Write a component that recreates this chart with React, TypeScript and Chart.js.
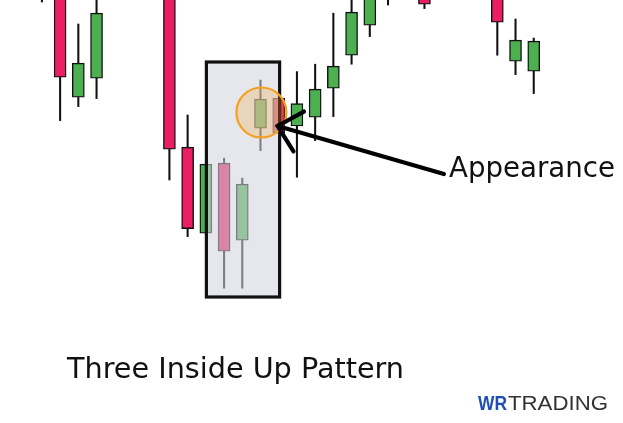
import React, { useEffect, useRef } from "react";
import { Chart, registerables } from "chart.js";

Chart.register(...registerables);

// Candle positions (bar index) and OHLC prices
const candleIndex = [-1, 0, 1, 2, 6, 7, 8, 9, 10, 11, 12, 13, 14, 15, 16, 17, 18, 20, 24, 25, 26];
const opens = [275, 265, 201.4, 210.9, 260, 176.4, 133.4, 168.4, 129.9, 185.9, 200.9, 187, 191.4, 205.9, 222.4, 237.4, 255, 260, 265, 219.4, 214.4];
const highs = [280, 272.5, 238, 255, 265, 192.5, 167.9, 170.9, 160.9, 210, 200.9, 214.2, 217.9, 243.4, 260, 270, 275, 265, 270, 240.5, 231];
const lows = [249, 189.7, 196.7, 200.7, 160, 131.7, 133.4, 105.9, 105.9, 174.7, 183.4, 161.4, 179.7, 191.7, 217.9, 231.7, 247.5, 245.7, 222.4, 212.7, 203.2];
const closes = [255, 211.4, 218.4, 243.4, 175.4, 135.7, 167.9, 124.4, 157.9, 200.4, 183.4, 198.2, 205.4, 216.9, 243.9, 265, 270, 247.9, 238.9, 229.9, 229.4];

// Annotation anchors (in data units)
const patternBoxIndex = [8.03, 12.05];
const patternBoxPrice = [219, 101.5];
const highlightCenter = [11.05, 193.75];
const arrowTip = [11.94, 187];
const arrowTail = [21.07, 163];

const titleText = "Three Inside Up Pattern";
const calloutText = "Appearance";
const logoBlue = "WR";
const logoGray = "TRADING";

const BULL = "#4caf50";
const BEAR = "#e91e63";

function drawFitted(ctx: CanvasRenderingContext2D, text: string, x: number, baseline: number, size: number, family: string, weight: string, targetW: number, fill: any) {
  ctx.save();
  ctx.font = `${weight} ${size}px ${family}`;
  const w = ctx.measureText(text).width;
  ctx.translate(x, baseline);
  ctx.scale(targetW / w, 1);
  ctx.fillStyle = fill;
  ctx.textBaseline = "alphabetic";
  ctx.textAlign = "left";
  ctx.fillText(text, 0, 0);
  ctx.restore();
}

const annotations = {
  id: "annotations",
  afterDatasetsDraw(chart: any) {
    const { ctx } = chart;
    const xs = chart.scales.x;
    const ys = chart.scales.y;
    const bx1 = xs.getPixelForValue(patternBoxIndex[0]);
    const bx2 = xs.getPixelForValue(patternBoxIndex[1]);
    const by1 = ys.getPixelForValue(patternBoxPrice[0]);
    const by2 = ys.getPixelForValue(patternBoxPrice[1]);
    ctx.save();
    // translucent pattern box
    ctx.fillStyle = "rgba(208,212,221,0.56)";
    ctx.fillRect(bx1, by1, bx2 - bx1, by2 - by1);
    ctx.lineWidth = 3.2;
    ctx.strokeStyle = "#111";
    ctx.strokeRect(bx1, by1, bx2 - bx1, by2 - by1);

    // highlight circle
    const cx = xs.getPixelForValue(highlightCenter[0]);
    const cy = ys.getPixelForValue(highlightCenter[1]);
    ctx.beginPath();
    ctx.arc(cx, cy, 25, 0, Math.PI * 2);
    ctx.fillStyle = "rgba(245,160,40,0.25)";
    ctx.fill();
    ctx.lineWidth = 2.2;
    ctx.strokeStyle = "#f5a021";
    ctx.stroke();

    // arrow
    const tx = xs.getPixelForValue(arrowTip[0]);
    const ty = ys.getPixelForValue(arrowTip[1]);
    const ax = xs.getPixelForValue(arrowTail[0]);
    const ay = ys.getPixelForValue(arrowTail[1]);
    ctx.strokeStyle = "#000";
    ctx.lineWidth = 4.2;
    ctx.lineCap = "round";
    ctx.beginPath();
    ctx.moveTo(ax, ay);
    ctx.lineTo(tx, ty);
    const ang = Math.atan2(ay - ty, ax - tx);
    const spread = (42 * Math.PI) / 180;
    const len = 30;
    ctx.moveTo(tx + len * Math.cos(ang - spread - 0.05), ty + len * Math.sin(ang - spread - 0.05));
    ctx.lineTo(tx, ty);
    ctx.lineTo(tx + len * Math.cos(ang + spread), ty + len * Math.sin(ang + spread));
    ctx.stroke();
    ctx.restore();

    // texts
    drawFitted(ctx, calloutText, 449, 177, 27.5, "'DejaVu Sans'", "normal", 166, "#111");
    drawFitted(ctx, titleText, 67, 378, 29, "'DejaVu Sans'", "normal", 337, "#111");
    const grad = ctx.createLinearGradient(478, 0, 507, 0);
    grad.addColorStop(0, "#1e4fb8");
    grad.addColorStop(1, "#4d86e0");
    drawFitted(ctx, logoBlue, 478, 409.5, 20.5, "'Liberation Sans'", "bold", 29, grad);
    drawFitted(ctx, logoGray, 508, 409.5, 21, "'Liberation Sans'", "normal", 100, "#333");
  },
};

export default function App() {
  const ref = useRef<HTMLCanvasElement>(null);
  useEffect(() => {
    if (!ref.current) return;
    const bodyColors = candleIndex.map((_, i) => (closes[i] >= opens[i] ? BULL : BEAR));
    const chart = new Chart(ref.current, {
      type: "bar",
      data: {
        datasets: [
          {
            label: "bodies",
            data: candleIndex.map((x, i) => ({ x, y: [opens[i], closes[i]] })) as any,
            backgroundColor: bodyColors,
            borderColor: "#111",
            borderWidth: 1.4,
            borderSkipped: false,
            barThickness: 12,
            grouped: false,
            order: 1,
          } as any,
          {
            label: "wicks",
            data: candleIndex.map((x, i) => ({ x, y: [lows[i], highs[i]] })) as any,
            backgroundColor: "#111",
            borderWidth: 0,
            barThickness: 1.4,
            grouped: false,
            order: 2,
          } as any,
        ],
      },
      options: {
        animation: false,
        responsive: false,
        maintainAspectRatio: false,
        layout: { padding: 0 },
        plugins: { legend: { display: false }, tooltip: { enabled: false } },
        scales: {
          x: { type: "linear", min: -3.3, max: 30.9, offset: false, display: false, grid: { offset: false } },
          y: { type: "linear", min: 38.5, max: 250, display: false },
        },
      },
      plugins: [annotations],
    });
    return () => chart.destroy();
  }, []);
  return (
    <div style={{ position: "absolute", left: 0, top: 0, width: 623, height: 423, background: "#fff" }}>
      <canvas ref={ref} width={623} height={423} style={{ display: "block", width: 623, height: 423 }} />
    </div>
  );
}
